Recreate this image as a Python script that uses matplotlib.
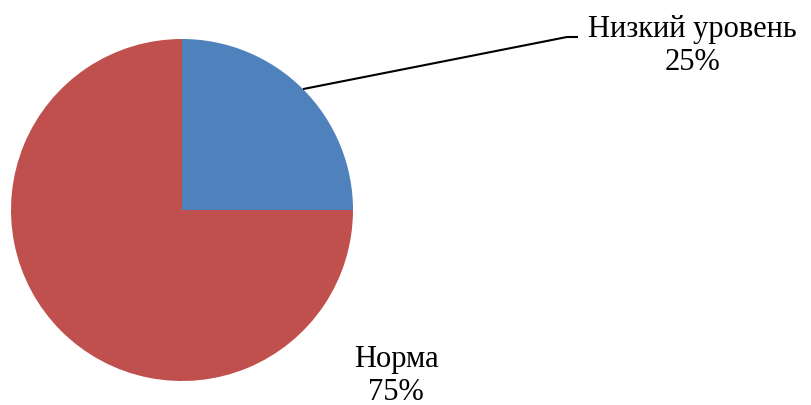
import numpy as np
import matplotlib.pyplot as plt

labels = ["Низкий уровень", "Норма"]
values = [25, 75]
colors = ["#4F81BD", "#C0504D"]

W, H = 811, 405

fig = plt.figure(figsize=(W / 100, H / 100), dpi=100)
ax = fig.add_axes([0, 0, 1, 1])

cx, cy, r = 182, H - 210, 171
wedges, _ = ax.pie(values, colors=colors, startangle=90, counterclock=False,
                   center=(cx, cy), radius=r, frame=True,
                   wedgeprops=dict(linewidth=0))
ax.set_xlim(0, W)
ax.set_ylim(0, H)
ax.set_aspect("equal")
ax.axis("off")

font = dict(family="Liberation Serif", fontsize=22, color="black",
            ha="center", va="center", linespacing=1.15)

# label 1 with leader line from wedge midpoint
w = wedges[0]
mid = np.deg2rad((w.theta1 + w.theta2) / 2)
x0, y0 = cx + r * np.cos(mid), cy + r * np.sin(mid)
ax.plot([x0, 567, 578], [y0, H - 37, H - 37], color="black", lw=1.5,
        solid_capstyle="butt")
ax.text(692, H - 46, f"{labels[0]}\n{values[0]}%", **font)

# label 2 below the pie
ax.text(396, H - 376, f"{labels[1]}\n{values[1]}%", **font)

fig.savefig("out.png", dpi=100)
